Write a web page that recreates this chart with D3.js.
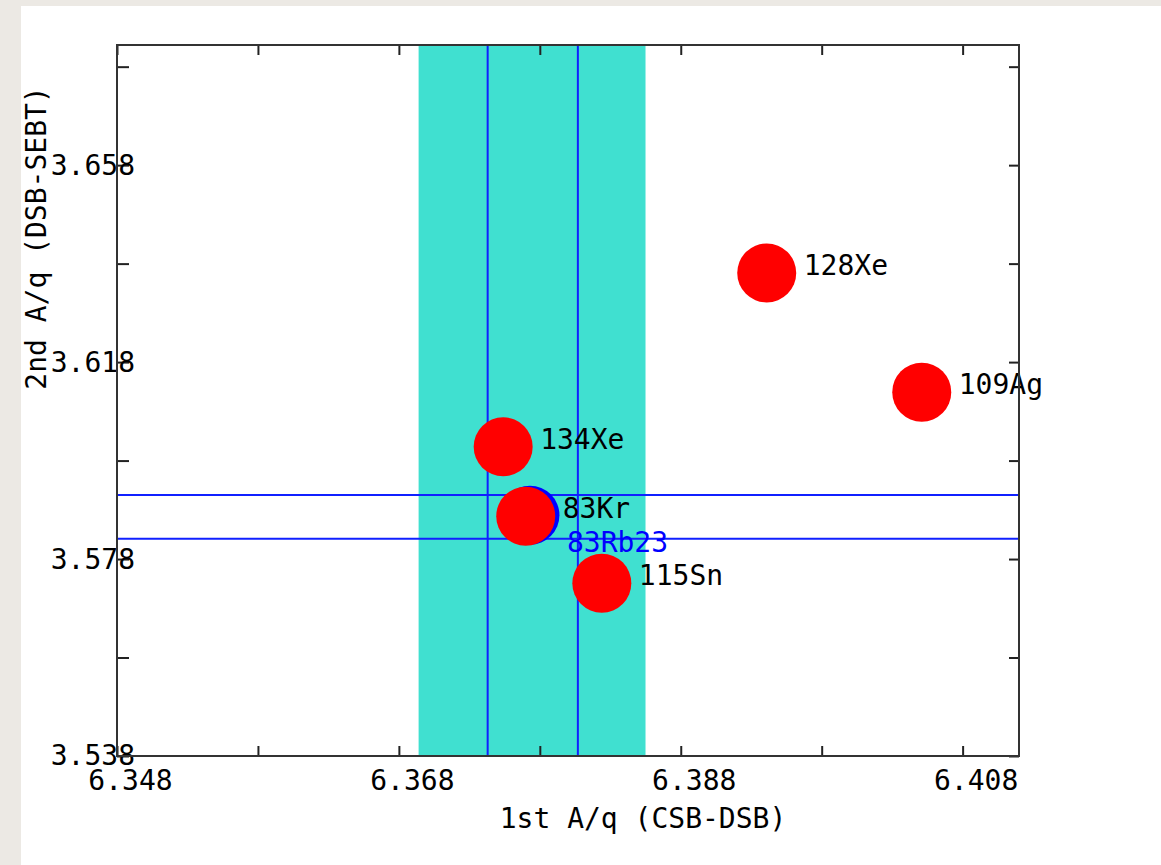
<!DOCTYPE html>
<html>
<head>
<meta charset="utf-8">
<script src="https://cdn.jsdelivr.net/npm/d3@7/dist/d3.min.js"></script>
<style>
  html, body { margin: 0; padding: 0; background: #ECE9E4; }
  svg { display: block; }
  text { font-family: "DejaVu Sans Mono", "Liberation Mono", monospace; }
</style>
</head>
<body>
<script>
// ---- data ----
const nuclideNames = ["128Xe", "109Ag", "134Xe", "83Kr", "115Sn"];
const aq1Values = [6.3941, 6.4051, 6.3754, 6.3770, 6.3824];   // 1st A/q (CSB-DSB)
const aq2Values = [3.6361, 3.6119, 3.6008, 3.5867, 3.5731];   // 2nd A/q (DSB-SEBT)

const refNames = ["83Rb23"];
const refAq1 = [6.3773];
const refAq2 = [3.5869];

const bandRange = [6.3694, 6.3855];        // acceptance band on 1st A/q
const vLineValues = [6.3743, 6.3807];      // 1st A/q window
const hLineValues = [3.5821, 3.5910];      // 2nd A/q window

const xDomain = [6.348, 6.412];
const yDomain = [3.538, 3.6824];
const xTickValues = [6.348, 6.358, 6.368, 6.378, 6.388, 6.398, 6.408];
const xTickLabels = ["6.348", "6.368", "6.388", "6.408"];
const yTickValues = [3.538, 3.558, 3.578, 3.598, 3.618, 3.638, 3.658, 3.678];
const yTickLabels = ["3.538", "3.578", "3.618", "3.658"];
const xTitle = "1st A/q (CSB-DSB)";
const yTitle = "2nd A/q (DSB-SEBT)";

// ---- layout ----
const W = 1161, H = 865;
const L = 117, T = 45, R = 1019, B = 756;
const FS = 28;

const svg = d3.select("body").append("svg").attr("width", W).attr("height", H);
svg.append("rect").attr("x", 21).attr("y", 6).attr("width", W - 21).attr("height", H - 6).attr("fill", "#ffffff");

const x = d3.scaleLinear().domain(xDomain).range([L, R]);
const y = d3.scaleLinear().domain(yDomain).range([B, T]);

const plot = svg.append("g");

// band
plot.append("rect")
  .attr("x", x(bandRange[0])).attr("y", T)
  .attr("width", x(bandRange[1]) - x(bandRange[0])).attr("height", B - T)
  .attr("fill", "#40E0D0");

// window lines
plot.selectAll("line.v").data(vLineValues).join("line")
  .attr("class", "v")
  .attr("x1", d => x(d)).attr("x2", d => x(d))
  .attr("y1", T).attr("y2", B)
  .attr("stroke", "#1020ff").attr("stroke-width", 2);
plot.selectAll("line.h").data(hLineValues).join("line")
  .attr("class", "h")
  .attr("x1", L).attr("x2", R)
  .attr("y1", d => y(d)).attr("y2", d => y(d))
  .attr("stroke", "#1020ff").attr("stroke-width", 2);

// reference nuclide (blue)
const refData = refNames.map((n, i) => ({ name: n, a: refAq1[i], b: refAq2[i] }));
plot.selectAll("circle.ref").data(refData).join("circle")
  .attr("class", "ref")
  .attr("cx", d => x(d.a)).attr("cy", d => y(d.b)).attr("r", 29.5)
  .attr("fill", "#0000ff");

// contaminants (red)
const data = nuclideNames.map((n, i) => ({ name: n, a: aq1Values[i], b: aq2Values[i] }));
plot.selectAll("circle.pt").data(data).join("circle")
  .attr("class", "pt")
  .attr("cx", d => x(d.a)).attr("cy", d => y(d.b)).attr("r", 29.5)
  .attr("fill", "#ff0000");

plot.selectAll("text.ptlab").data(data).join("text")
  .attr("class", "ptlab")
  .attr("x", d => x(d.a) + 37).attr("y", d => y(d.b) + 2)
  .attr("font-size", FS).attr("fill", "#000")
  .text(d => d.name);

plot.selectAll("text.reflab").data(refData).join("text")
  .attr("class", "reflab")
  .attr("x", d => x(d.a) + 37).attr("y", d => y(d.b) + 37)
  .attr("font-size", FS).attr("fill", "#0000ff")
  .text(d => d.name);

// ---- axes ----
const fmtX = d => { const s = d.toFixed(3); return xTickLabels.includes(s) ? s : ""; };
const fmtY = d => { const s = d.toFixed(3); return yTickLabels.includes(s) ? s : ""; };

const gB = svg.append("g").attr("transform", `translate(0,${B})`)
  .call(d3.axisBottom(x).tickValues(xTickValues).tickFormat(fmtX).tickSizeInner(-10).tickSizeOuter(0).tickPadding(14));
gB.selectAll("text").attr("dx", 13);

const gT = svg.append("g").attr("transform", `translate(0,${T})`)
  .call(d3.axisTop(x).tickValues(xTickValues).tickFormat("").tickSizeInner(-10).tickSizeOuter(0));

const gL = svg.append("g").attr("transform", `translate(${L},0)`)
  .call(d3.axisLeft(y).tickValues(yTickValues).tickFormat(fmtY).tickSizeInner(-12).tickSizeOuter(0));
gL.selectAll("text").attr("x", 18);

const gR = svg.append("g").attr("transform", `translate(${R},0)`)
  .call(d3.axisRight(y).tickValues(yTickValues).tickFormat("").tickSizeInner(-10).tickSizeOuter(0));

[gB, gT, gL, gR].forEach(g => {
  g.select(".domain").remove();
  g.selectAll(".tick line").attr("stroke", "#222").attr("stroke-width", 2);
  g.selectAll("text").attr("font-size", FS).attr("fill", "#000")
    .attr("font-family", '"DejaVu Sans Mono", monospace');
});

// frame
svg.append("rect").attr("x", L).attr("y", T).attr("width", R - L).attr("height", B - T)
  .attr("fill", "none").attr("stroke", "#333").attr("stroke-width", 2);

// titles
svg.append("text").attr("x", 643).attr("y", 828).attr("text-anchor", "middle")
  .attr("font-size", FS).attr("fill", "#000").text(xTitle);
svg.append("text").attr("transform", "translate(46,238) rotate(-90)").attr("text-anchor", "middle")
  .attr("font-size", FS).attr("fill", "#000").text(yTitle);
</script>
</body>
</html>
